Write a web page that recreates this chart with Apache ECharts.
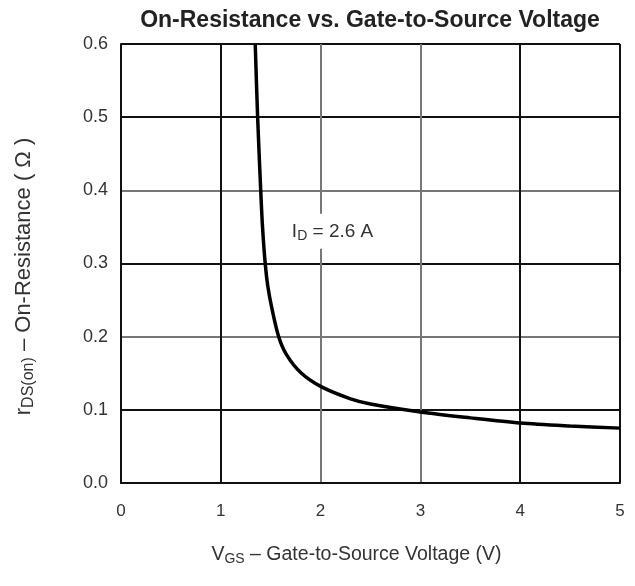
<!DOCTYPE html>
<html>
<head>
<meta charset="utf-8">
<script src="https://cdn.jsdelivr.net/npm/echarts@6/dist/echarts.min.js"></script>
<style>
  html, body { margin: 0; padding: 0; background: #fff; }
  #main { width: 635px; height: 586px; }
</style>
</head>
<body>
<div id="main"></div>
<script>
// gate voltage (V) vs on-resistance (ohm)
var vgs = [1.345, 1.369, 1.40, 1.418, 1.445, 1.47, 1.51, 1.58, 1.66, 1.8, 2.0, 2.3, 2.5, 3.0, 3.5, 4.0, 4.5, 5.0];
var rds = [0.6, 0.5, 0.4, 0.35, 0.3, 0.27, 0.24, 0.2, 0.175, 0.151, 0.132, 0.115, 0.108, 0.097, 0.089, 0.082, 0.078, 0.075];
var xTicks = [0, 1, 2, 3, 4, 5];
var yTicks = [0.0, 0.1, 0.2, 0.3, 0.4, 0.5, 0.6];

var myChart = echarts.init(document.getElementById('main'));

var pts = [];
for (var i = 0; i < vgs.length; i++) {
    pts.push([vgs[i], rds[i]]);
}

var font = 'Liberation Sans, Arial, sans-serif';

var option = {
    backgroundColor: '#fff',
    animation: false,
    title: {
        text: 'On-Resistance vs. Gate-to-Source Voltage',
        left: 365,
        top: 4,
        textAlign: 'center',
        textStyle: { fontFamily: font, fontSize: 23, fontWeight: 'bold', color: '#222' }
    },
    grid: { left: 121, right: 15, top: 44, bottom: 103 },
    xAxis: {
        type: 'value',
        min: 0, max: 5, interval: 1,
        name: '{v|V}{s|GS}{v| – Gate-to-Source Voltage (V)}',
        nameLocation: 'middle',
        nameGap: 60,
        nameTextStyle: {
            padding: [0, 28, 0, 0],
            rich: {
                v: { fontFamily: font, fontSize: 19.5, color: '#333' },
                s: { fontFamily: font, fontSize: 14, color: '#333', padding: [9, 0, 0, 0] }
            }
        },
        axisLine: { lineStyle: { color: '#111', width: 2 } },
        axisTick: { show: false },
        axisLabel: {
            margin: 20, fontFamily: font, fontSize: 17, color: '#333',
            formatter: function (v) { return xTicks.indexOf(v) >= 0 ? String(v) : ''; }
        },
        splitLine: {
            show: true,
            lineStyle: { color: ['#111', '#111', '#777', '#777', '#111', '#111'], width: 2 }
        }
    },
    yAxis: {
        type: 'value',
        min: 0, max: 0.6, interval: 0.1,
        name: '{v|r}{s|DS(on)}{v| – On-Resistance ( Ω )}',
        nameLocation: 'middle',
        nameGap: 84,
        nameTextStyle: {
            padding: [0, 26, 0, 0],
            rich: {
                v: { fontFamily: font, fontSize: 22, color: '#333' },
                s: { fontFamily: font, fontSize: 16, color: '#333', padding: [10, 0, 0, 0] }
            }
        },
        axisLine: { show: true, lineStyle: { color: '#111', width: 2 } },
        axisTick: { show: false },
        axisLabel: {
            margin: 13, fontFamily: font, fontSize: 18, color: '#333',
            formatter: function (v) {
                return yTicks.indexOf(Math.round(v * 10) / 10) >= 0 ? v.toFixed(1) : '';
            }
        },
        splitLine: {
            show: true,
            lineStyle: { color: ['#111', '#111', '#777', '#111', '#777', '#111', '#111'], width: 2 }
        }
    },
    series: [
        {
            type: 'line',
            data: pts,
            smooth: 0.3,
            showSymbol: false,
            lineStyle: { color: '#000', width: 3.5 },
            markPoint: {
                symbolSize: 0,
                data: [{ coord: [2.12, 0.344] }],
                label: {
                    show: true,
                    position: 'inside',
                    backgroundColor: '#fff',
                    padding: [6, 3, 6, 3],
                    formatter: '{v|I}{s|D}{v| = 2.6 A}',
                    rich: {
                        v: { fontFamily: font, fontSize: 19, color: '#333' },
                        s: { fontFamily: font, fontSize: 14, color: '#333', padding: [9, 0, 0, 0] }
                    }
                }
            }
        }
    ]
};

myChart.setOption(option);
</script>
</body>
</html>
